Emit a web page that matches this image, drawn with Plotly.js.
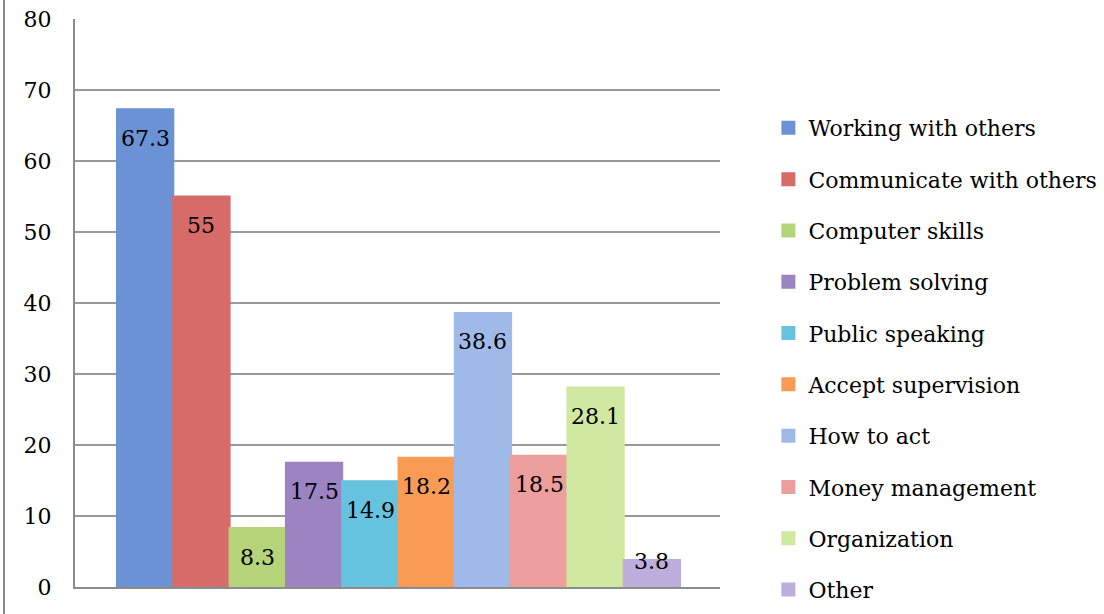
<!DOCTYPE html>
<html>
<head>
<meta charset="utf-8">
<script src="https://cdn.plot.ly/plotly-3.0.1.min.js"></script>
<style>
html,body{margin:0;padding:0;background:#fff;overflow:hidden;width:1104px;height:614px;}
#wrap{position:relative;width:1104px;height:614px;overflow:hidden;}
#border{position:absolute;left:3px;top:0;width:2px;height:614px;background:#8c8c8c;}
#chart{position:absolute;left:0;top:0;width:1160px;height:680px;}
</style>
</head>
<body>
<div id="wrap"><div id="chart"></div><div id="border"></div></div>
<script>
var categories = ["Working with others","Communicate with others","Computer skills","Problem solving","Public speaking","Accept supervision","How to act","Money management","Organization","Other"];
var values = [67.3, 55, 8.3, 17.5, 14.9, 18.2, 38.6, 18.5, 28.1, 3.8];
var labels = ["67.3","55","8.3","17.5","14.9","18.2","38.6","18.5","28.1","3.8"];
var colors = ["#6a92d4","#d66b68","#b5d479","#9c83c1","#66c3df","#f89b55","#9fbae9","#eb9e9c","#d0e8a0","#bdaddc"];
var yTicks = [0,10,20,30,40,50,60,70,80];

var FONT = "DejaVu Serif, Liberation Serif, serif";
var PX_PER_UNIT = 568 / 80;
var traces = categories.map(function(c,i){
  return {
    type:'bar', name:c, x:[c], y:[values[i]],
    marker:{color:colors[i], line:{width:2, color:colors[i]}},
    legendgroup:'g'+i, hoverinfo:'none'
  };
});
var annotations = categories.map(function(c,i){
  var shift = Math.min(29, values[i]*PX_PER_UNIT - 26);
  return {x:c, y:values[i], xref:'x', yref:'y', text:labels[i], showarrow:false,
    yanchor:'middle', yshift:-shift, font:{family:FONT, size:22, color:'#000'}};
});
var layout = {
  width:1160, height:680,
  margin:{l:75, r:440, t:19, b:93, pad:0},
  paper_bgcolor:'#fff', plot_bgcolor:'#fff',
  barmode:'overlay', bargap:0,
  font:{family:FONT, size:22, color:'#000'},
  xaxis:{type:'category', range:[-1.246, 10.21], showticklabels:false, ticks:'',
    showgrid:false, zeroline:false, showline:true, linecolor:'#8c8c8c', linewidth:2, fixedrange:true},
  yaxis:{range:[0,80], tickvals:yTicks, ticktext:yTicks.map(String), ticks:'',
    showgrid:true, gridcolor:'#999', gridwidth:1.5, zeroline:false,
    showline:true, linecolor:'#8c8c8c', linewidth:2, ticklabelstandoff:17,
    tickfont:{family:FONT, size:22, color:'#000'}},
  showlegend:true,
  legend:{x:1.075, xanchor:'left', y:0.845, yanchor:'top', tracegroupgap:19.7,
    font:{family:FONT, size:22, color:'#000'}, bgcolor:'rgba(0,0,0,0)', itemclick:false, itemdoubleclick:false},
  annotations:annotations
};
Plotly.newPlot('chart', traces, layout, {displayModeBar:false, staticPlot:true});
</script>
</body>
</html>
